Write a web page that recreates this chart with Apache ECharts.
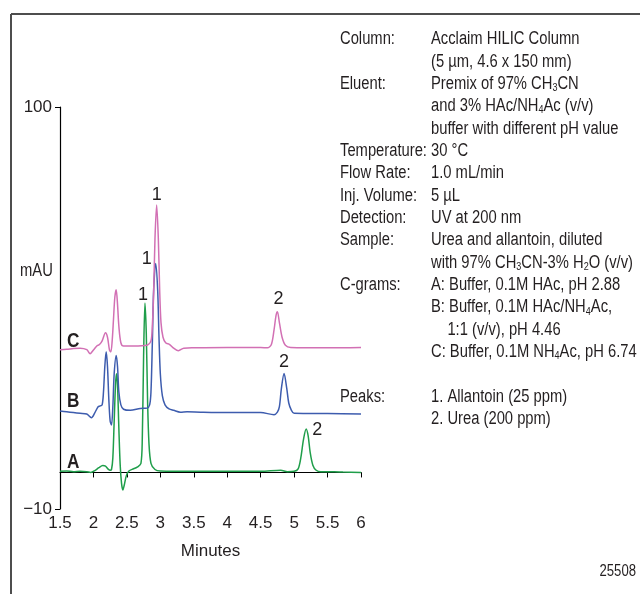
<!DOCTYPE html>
<html>
<head>
<meta charset="utf-8">
<script src="https://cdn.jsdelivr.net/npm/echarts@6/dist/echarts.min.js"></script>
<style>
  html, body { margin: 0; padding: 0; background: #fff; }
  #chart { width: 640px; height: 594px; }
</style>
</head>
<body>
<div id="chart"></div>
<script>
// chromatogram traces, [minutes, mAU] (offsets for B and C already included)
const traceA = [
  [1.5, 0.3], [1.6, 0.4], [1.7, 0.2], [1.8, 0.3], [1.9, 0.2], [1.96, 0], [2.02, 0.5],
  [2.08, 1.3], [2.14, 1.9], [2.18, 1.7], [2.22, 0.9], [2.25, 0.6], [2.27, 0.8], [2.29, 4],
  [2.31, 14], [2.33, 24], [2.345, 27], [2.36, 24], [2.38, 12], [2.4, 2], [2.42, -3],
  [2.44, -4.8], [2.46, -3.5], [2.49, -1], [2.53, 0.4], [2.6, 1], [2.66, 1.5], [2.71, 2.5],
  [2.73, 9], [2.75, 32], [2.77, 46.4], [2.79, 38], [2.81, 19], [2.83, 8], [2.86, 2.5],
  [2.92, 0.8], [3.0, 0.4], [3.5, 0.3], [4.0, 0.3], [4.5, 0.3], [4.8, 0.6], [4.9, 0.2],
  [5.0, 0.3], [5.06, 1], [5.1, 4], [5.14, 9], [5.18, 11.9], [5.21, 10], [5.24, 5.5],
  [5.28, 2], [5.33, 0.6], [5.4, 0.2], [5.6, 0.2], [5.73, 0.1], [6.0, 0]
];
const traceB = [
  [1.5, 16.8], [1.6, 16.6], [1.7, 16.4], [1.8, 16.2], [1.9, 16], [1.97, 15], [2.02, 16.3],
  [2.07, 18], [2.1, 18.2], [2.13, 18.5], [2.15, 22], [2.17, 29], [2.19, 33], [2.21, 29],
  [2.23, 20], [2.25, 14], [2.27, 13], [2.29, 18], [2.31, 27], [2.34, 32], [2.36, 29],
  [2.38, 22], [2.41, 18.5], [2.45, 17.3], [2.55, 17], [2.7, 17.5], [2.8, 17.6], [2.84, 18.5],
  [2.86, 22], [2.88, 35], [2.9, 50], [2.93, 57.2], [2.96, 50], [2.98, 37], [3.0, 27],
  [3.03, 21], [3.07, 18.5], [3.13, 17.4], [3.2, 17], [3.3, 16.5], [3.4, 16.6], [3.6, 16.5],
  [4.0, 16.4], [4.5, 16.4], [4.7, 15.8], [4.75, 16.5], [4.78, 18], [4.81, 23], [4.85, 27.1],
  [4.89, 23], [4.92, 19], [4.96, 17], [5.0, 16.2], [5.5, 16.1], [6.0, 16]
];
const traceC = [
  [1.5, 33.6], [1.6, 33.7], [1.7, 33.9], [1.8, 34], [1.9, 33.6], [1.95, 32.5], [2.0, 33.5],
  [2.05, 34.6], [2.09, 35], [2.13, 36], [2.18, 38.2], [2.21, 37], [2.24, 33.5], [2.26, 33],
  [2.28, 36], [2.3, 42], [2.32, 48], [2.34, 50], [2.36, 46], [2.38, 40], [2.41, 35.5],
  [2.45, 34.6], [2.6, 34.6], [2.8, 34.8], [2.86, 36], [2.88, 40], [2.9, 49], [2.92, 64],
  [2.945, 73.2], [2.97, 64], [2.99, 50], [3.01, 41], [3.04, 37], [3.08, 35.5], [3.14, 35],
  [3.2, 34], [3.27, 33.3], [3.35, 34], [3.5, 34.1], [4.0, 34.2], [4.5, 34.2], [4.6, 34.1],
  [4.66, 35], [4.7, 39], [4.73, 43], [4.75, 44], [4.78, 41], [4.82, 37], [4.87, 34.8],
  [4.95, 34.2], [5.5, 34.1], [6.0, 34.2]
];

// peak numbers placed at the peak tops
const peaksA = [[2.77, 46.4, '1'], [5.18, 11.9, '2']];
const peaksB = [[2.93, 57.2, '1'], [4.85, 27.1, '2']];
const peaksC = [[2.945, 73.2, '1'], [4.75, 44, '2']];

const xTicks = [1.5, 2, 2.5, 3, 3.5, 4, 4.5, 5, 5.5, 6];
const yTicks = [-10, 100];

// conditions text block: [label, value]
const infoRows = [
  ['Column:', 'Acclaim HILIC Column'],
  ['', '(5 µm, 4.6 x 150 mm)'],
  ['Eluent:', 'Premix of 97% CH{s|3}CN'],
  ['', 'and 3% HAc/NH{s|4}Ac (v/v)'],
  ['', 'buffer with different pH value'],
  ['Temperature:', '30 °C'],
  ['Flow Rate:', '1.0 mL/min'],
  ['Inj. Volume:', '5 µL'],
  ['Detection:', 'UV at 200 nm'],
  ['Sample:', 'Urea and allantoin, diluted'],
  ['', 'with 97% CH{s|3}CN-3% H{s|2}O (v/v)'],
  ['C-grams:', 'A: Buffer, 0.1M HAc, pH 2.88'],
  ['', 'B: Buffer, 0.1M HAc/NH{s|4}Ac,'],
  ['', '    1:1 (v/v), pH 4.46'],
  ['', 'C: Buffer, 0.1M NH{s|4}Ac, pH 6.74'],
  ['', ''],
  ['Peaks:', '1. Allantoin (25 ppm)'],
  ['', '2. Urea (200 ppm)']
];

const FONT = '"Liberation Sans", Arial, sans-serif';
const TXT = '#231f20';
const NARROW = 0.82; // squeeze text horizontally, the original uses a condensed face

const chart = echarts.init(document.getElementById('chart'));

function traceSeries(data, color, peaks, offsets) {
  return {
    type: 'line',
    data: data,
    showSymbol: false,
    smooth: 0.3,
    lineStyle: { color: color, width: 1.5 },
    silent: true,
    markPoint: {
      symbol: 'circle',
      symbolSize: 1,
      itemStyle: { color: 'rgba(0,0,0,0)' },
      data: peaks.map((p, i) => ({
        coord: [p[0], p[1]],
        label: {
          show: true,
          formatter: p[2],
          position: 'inside',
          offset: offsets[i],
          color: TXT,
          fontFamily: FONT,
          fontSize: 18
        }
      }))
    }
  };
}

function narrowText(x, y, text, opts, sx) {
  return {
    type: 'text',
    x: x,
    y: y,
    scaleX: sx || NARROW,
    style: Object.assign({ text: text, font: '18px ' + FONT, fill: TXT, verticalAlign: 'middle' }, opts || {})
  };
}

const graphics = [
  // frame
  { type: 'line', shape: { x1: 11, y1: 14, x2: 640, y2: 14 }, style: { stroke: '#4d4d4d', lineWidth: 2 } },
  { type: 'line', shape: { x1: 11, y1: 14, x2: 11, y2: 594 }, style: { stroke: '#4d4d4d', lineWidth: 2 } },
  // trace letters
  narrowText(67, 341, 'C', { font: 'bold 20px ' + FONT }, 0.86),
  narrowText(67, 401, 'B', { font: 'bold 20px ' + FONT }, 0.86),
  narrowText(67, 462, 'A', { font: 'bold 20px ' + FONT }, 0.86),
  // y axis unit
  narrowText(20, 271, 'mAU'),
  // figure number
  narrowText(636, 572, '25508', { font: '16px ' + FONT, align: 'right' })
];

infoRows.forEach((row, i) => {
  const y = 39.3 + i * 22.35;
  const rich = { s: { fontSize: 11, fontFamily: FONT, fill: TXT, padding: [8, 0, 0, 0] } };
  if (row[0]) graphics.push(narrowText(340, y, row[0]));
  if (row[1]) graphics.push(narrowText(431, y, row[1], { rich: rich }));
});

const option = {
  animation: false,
  backgroundColor: '#fff',
  grid: { left: 60, right: 279, top: 107, bottom: 85, containLabel: false },
  xAxis: {
    type: 'value',
    min: 1.5,
    max: 6,
    interval: 0.5,
    name: 'Minutes',
    nameLocation: 'middle',
    nameGap: 34,
    nameTextStyle: { color: TXT, fontFamily: FONT, fontSize: 17 },
    axisLine: { lineStyle: { color: '#000', width: 1.2 } },
    axisTick: { length: 5, lineStyle: { color: '#000' } },
    axisLabel: {
      color: TXT, fontFamily: FONT, fontSize: 17, margin: 6,
      customValues: xTicks
    },
    splitLine: { show: false }
  },
  yAxis: {
    type: 'value',
    min: -10,
    max: 100,
    axisLine: { show: true, lineStyle: { color: '#000', width: 1.2 } },
    axisTick: { show: true, length: 5, customValues: yTicks, lineStyle: { color: '#000' } },
    axisLabel: {
      color: TXT, fontFamily: FONT, fontSize: 17, margin: 8,
      customValues: yTicks,
      formatter: v => (v < 0 ? '\u2212' + Math.abs(v) : String(v))
    },
    splitLine: { show: false }
  },
  series: [
    traceSeries(traceA, '#1f9e4a', peaksA, [[-2, -8], [11, 1]]),
    traceSeries(traceB, '#3d5cae', peaksB, [[-9, -4], [0, -11]]),
    traceSeries(traceC, '#d270b4', peaksC, [[0, -10], [1, -13]])
  ],
  graphic: graphics
};

chart.setOption(option);
window.addEventListener('resize', chart.resize);
</script>
</body>
</html>
